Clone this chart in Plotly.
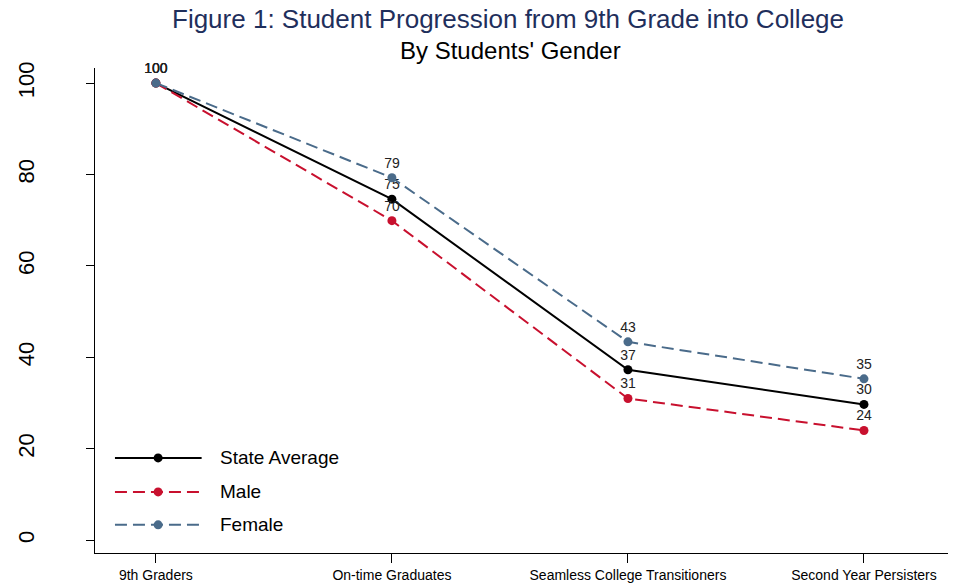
import plotly.graph_objects as go

# Daten
stages = ["9th Graders", "On-time Graduates", "Seamless College Transitioners", "Second Year Persisters"]
state_avg = [100, 74.6, 37.3, 29.7]
male = [100, 69.9, 31.0, 24.0]
female = [100, 79.3, 43.4, 35.3]

FONT = "Liberation Sans, Arial, sans-serif"
NARROW = "Liberation Sans Narrow, Arial Narrow, Liberation Sans, sans-serif"
DASH = "12px,6px"

x_idx = list(range(len(stages)))

series = [
    ("State Average", state_avg, "#000000", "solid"),
    ("Male", male, "#c8102e", DASH),
    ("Female", female, "#4a6b8a", DASH),
]

fig = go.Figure()

for name, vals, color, dash in series:
    fig.add_trace(go.Scatter(
        x=x_idx,
        y=vals,
        name=name,
        mode="lines+markers+text",
        line=dict(color=color, width=2, dash=dash),
        marker=dict(color=color, size=9),
        text=[str(round(v)) for v in vals],
        textposition="top center",
        textfont=dict(family=FONT, size=14, color="#222222"),
        cliponaxis=False,
        showlegend=False,
    ))

# Legende von Hand (lange Liniensymbole wie im Original)
shapes = []
annotations = []
leg_y = [0.196, 0.126, 0.058]
for (name, _, color, dash), ly in zip(series, leg_y):
    shapes.append(dict(type="line", xref="paper", yref="paper",
                       x0=0.0234, x1=0.125, y0=ly, y1=ly,
                       line=dict(color=color, width=2, dash=dash)))
    shapes.append(dict(type="circle", xref="paper", yref="paper",
                       xsizemode="pixel", ysizemode="pixel",
                       xanchor=0.074, yanchor=ly,
                       x0=-4.5, x1=4.5, y0=-4.5, y1=4.5,
                       fillcolor=color, line=dict(color=color, width=0)))
    annotations.append(dict(text=name, xref="paper", yref="paper",
                            x=0.144, y=ly, xanchor="left", yanchor="middle",
                            showarrow=False,
                            font=dict(family=FONT, size=19, color="black")))

annotations += [
    dict(text="Figure 1: Student Progression from 9th Grade into College",
         xref="paper", yref="paper", x=0.484, y=1.101,
         xanchor="center", yanchor="middle", showarrow=False,
         font=dict(family=FONT, size=26, color="#1f2f5c")),
    dict(text="By Students' Gender",
         xref="paper", yref="paper", x=0.487, y=1.037,
         xanchor="center", yanchor="middle", showarrow=False,
         font=dict(family=FONT, size=24, color="black")),
]

fig.update_layout(
    width=955,
    height=587,
    margin=dict(l=95, r=7, t=68, b=34),
    paper_bgcolor="white",
    plot_bgcolor="white",
    font=dict(family=FONT, color="black"),
    showlegend=False,
    shapes=shapes,
    annotations=annotations,
)

fig.update_xaxes(
    range=[-0.258, 3.356],
    tickvals=x_idx,
    ticktext=stages,
    ticks="outside",
    ticklen=9,
    tickcolor="black",
    showline=True,
    linecolor="black",
    linewidth=1,
    showgrid=False,
    zeroline=False,
    automargin=False,
    tickfont=dict(family=NARROW, size=14, color="black"),
)

fig.update_yaxes(
    range=[-2.8, 103.3],
    tickvals=[0, 20, 40, 60, 80, 100],
    tickangle=-90,
    ticks="outside",
    ticklen=8,
    tickcolor="black",
    showline=True,
    linecolor="black",
    linewidth=1,
    showgrid=False,
    zeroline=False,
    automargin=False,
    ticklabelstandoff=43,
    tickfont=dict(family=FONT, size=22, color="black"),
)

# Body-Rand der Seite entfernen, damit die Figur genau bei 0,0 beginnt
fig.write_html(
    "out.html",
    config={"displayModeBar": False},
    post_script="document.body.style.margin='0';",
)
